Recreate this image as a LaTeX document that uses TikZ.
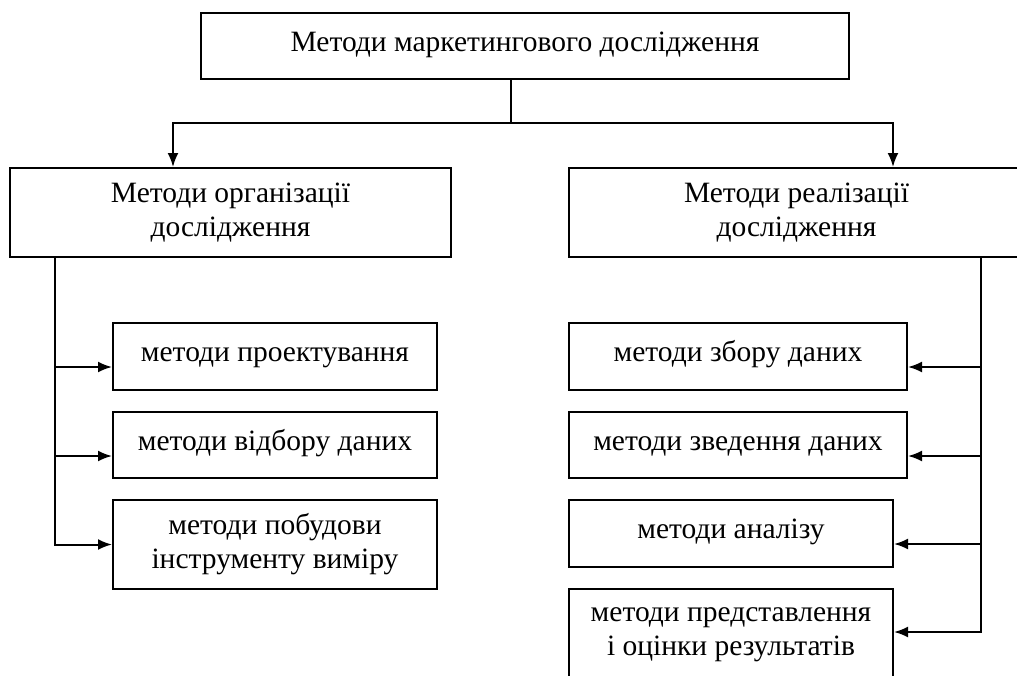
\documentclass[tikz,border=0pt]{standalone}
\usepackage{fontspec}
\setmainfont{Liberation Serif}
\usetikzlibrary{arrows.meta}

\begin{document}
\begin{tikzpicture}[x=1pt, y=-1pt, line width=2pt, >={Latex[length=14pt,width=11pt]}]
  % Define styles
  \tikzstyle{block} = [rectangle, draw, align=center, inner sep=0pt, font=\fontsize{29.5}{34}\selectfont]
  \tikzstyle{head} = [block, minimum height=89pt]
  \tikzstyle{sub} = [block, minimum height=67pt, text height=18pt, text depth=8pt]

  \useasboundingbox (0,0) rectangle (1017,675);

  % Top
  \node[sub, minimum width=648pt, minimum height=66pt] (main) at (525,46) {Методи маркетингового дослідження};

  % Two groups
  \node[head, minimum width=441pt] (org) at (230.5,212.5) {Методи організації\\дослідження};
  \node[head, minimum width=455pt] (real) at (796.5,212.5) {Методи реалізації\\дослідження};

  % Organisation methods
  \node[sub, minimum width=324pt] (proj) at (275,356.5) {методи проектування};
  \node[sub, minimum width=324pt, minimum height=66pt] (select) at (275,445) {методи відбору даних};
  \node[head, minimum width=324pt] (instr) at (275,544.5) {методи побудови\\інструменту виміру};

  % Realisation methods
  \node[sub, minimum width=338pt] (collect) at (738,356.5) {методи збору даних};
  \node[sub, minimum width=338pt, minimum height=66pt] (summ) at (738,445) {методи зведення даних};
  \node[sub, minimum width=324pt] (anal) at (731,533.5) {методи аналізу};
  \node[head, minimum width=324pt, minimum height=91pt] (pres) at (731,634.5) {методи представлення\\і оцінки результатів};

  % Helper coordinates
  \coordinate (split) at (511,123);
  \coordinate (lx) at (173,0);
  \coordinate (rx) at (893,0);
  \coordinate (lspine) at (55,0);
  \coordinate (rspine) at (981,0);

  % Arrows
  \draw ([xshift=-14pt]main.south) -- (split);
  \draw[->] (split) -| (org.north -| lx);
  \draw[->] (split) -| (real.north -| rx);

  \draw[->] (org.south -| lspine) |- ([yshift=-10.5pt]proj.west);
  \draw[->] (org.south -| lspine) |- ([yshift=-11pt]select.west);
  \draw[->] (org.south -| lspine) |- (instr.west);

  \draw[->] (real.south -| rspine) |- ([yshift=-10.5pt]collect.east);
  \draw[->] (real.south -| rspine) |- ([yshift=-11pt]summ.east);
  \draw[->] (real.south -| rspine) |- ([yshift=-10.5pt]anal.east);
  \draw[->] (real.south -| rspine) |- ([yshift=2.5pt]pres.east);
\end{tikzpicture}
\end{document}
